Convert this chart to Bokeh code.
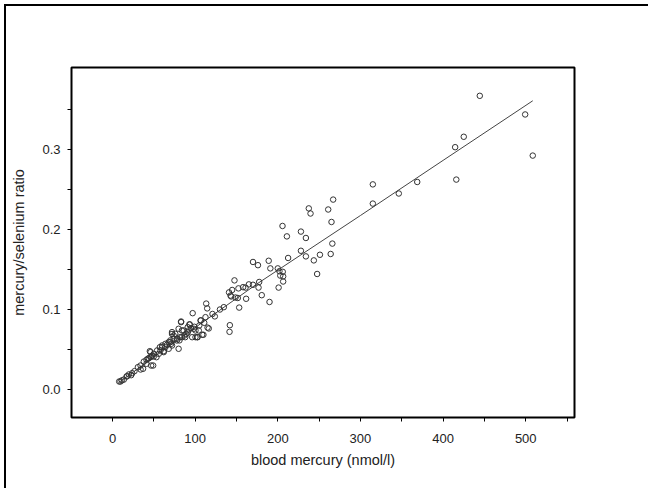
from bokeh.plotting import figure
from bokeh.models import Range1d, FixedTicker, NumeralTickFormatter, InlineStyleSheet
from bokeh.embed import file_html
from bokeh.resources import INLINE

# blood mercury (nmol/l)
mercury = [8.1, 9.7, 11.3, 13.7, 17, 17.8, 19.8, 22.6, 23.8, 26.6, 30.7, 34, 37, 33.9,
           37.9, 41.1, 41.1, 42.7, 44, 46.8, 46, 46.8, 48, 45.2, 46, 49.2, 50, 50, 53.2, 54,
           56, 57.3, 58, 60, 60, 62, 62, 64, 64, 66, 68, 68, 70, 70, 71, 72, 72, 72, 74, 74,
           76, 78, 78, 80, 80, 81, 82, 83, 83, 84, 84, 86, 87, 88, 89.5, 91, 91, 92, 93, 93.6,
           95, 96.4, 97, 98.4, 99, 100.4, 100.4, 102.5, 103, 104.4, 105, 106.5, 107, 108.5,
           110, 111, 112.5, 113.4, 114.6, 115, 116.5, 121, 123.8, 130, 134.7, 141, 142, 141.6,
           142.8, 143.6, 144.8, 147.6, 148.8, 151.6, 152.4, 153.3, 158, 161, 161.7, 165, 170,
           170, 176, 176.7, 177.5, 180.6, 189, 190, 191, 200, 201, 202, 203, 205.7, 206, 206.5,
           206.5, 211, 212.5, 228, 228, 234, 234, 237.5, 239.6, 243.6, 247.6, 251, 261, 264,
           265, 266, 267, 315, 315, 346.4, 368.7, 414.6, 416, 425, 444.4, 499.3, 508.5]
# mercury/selenium ratio
ratio = [0.0096, 0.0096, 0.011, 0.012, 0.0159, 0.0162, 0.0184, 0.0175, 0.020, 0.0225, 0.0275,
         0.0246, 0.0255, 0.0296,
         0.0345, 0.0317, 0.0367, 0.038, 0.0388, 0.0296, 0.040, 0.0409, 0.042, 0.0475, 0.0463,
         0.0296, 0.0409, 0.0442, 0.040, 0.0484, 0.0442, 0.0525, 0.0484, 0.0525, 0.0546, 0.0475,
         0.0463, 0.0525, 0.0567, 0.0555, 0.0588, 0.0505, 0.0588, 0.061, 0.0567, 0.0713, 0.0546,
         0.069, 0.067, 0.063, 0.0692, 0.063, 0.0609, 0.0505, 0.0755, 0.061, 0.065, 0.0838,
         0.0846, 0.0734, 0.065, 0.0734, 0.0671, 0.065, 0.0692, 0.0775, 0.071, 0.0734, 0.081,
         0.0809, 0.0763, 0.065, 0.095, 0.0755, 0.078, 0.0734, 0.065, 0.065, 0.065, 0.0734,
         0.0796, 0.0859, 0.086, 0.068, 0.068, 0.083, 0.090, 0.107, 0.101, 0.077, 0.0759, 0.094,
         0.091, 0.0996, 0.1025, 0.121, 0.080, 0.0717, 0.117, 0.1159, 0.124, 0.136, 0.1146,
         0.114, 0.126, 0.102, 0.1275, 0.127, 0.113, 0.131, 0.1305, 0.159, 0.155, 0.127, 0.134,
         0.1175, 0.1605, 0.109, 0.151, 0.151, 0.127, 0.1475, 0.142, 0.204, 0.1467, 0.141,
         0.1346, 0.191, 0.164, 0.197, 0.173, 0.189, 0.166, 0.226, 0.2196, 0.161, 0.144, 0.168,
         0.2246, 0.169, 0.209, 0.182, 0.237, 0.256, 0.232, 0.2446, 0.259, 0.3025, 0.262,
         0.3155, 0.3667, 0.3434, 0.292]

# fitted curve
fit_x = [8, 50, 98, 175, 300, 400, 508.5]
fit_y = [0.0085, 0.040, 0.0755, 0.1317, 0.2171, 0.286, 0.3605]

x_major = [0, 100, 200, 300, 400, 500]
x_minor = [50, 150, 250, 350, 450, 550]
y_major = [0.0, 0.1, 0.2, 0.3]
y_minor = [0.05, 0.15, 0.25, 0.35]

FONT = "Liberation Sans"

p = figure(width=648, height=488, output_backend="svg", toolbar_location=None,
           x_range=Range1d(-49.6, 559), y_range=Range1d(-0.0354, 0.4021),
           min_border_left=71, min_border_right=74, min_border_top=67, min_border_bottom=71)
p.background_fill_color = "white"
p.border_fill_color = "white"
# outer page border (top and left edges only; the rest lies outside the window)
p.stylesheets = [InlineStyleSheet(css="""
:host { position: relative; overflow: hidden; }
:host::before { content: ""; position: absolute; left: 4px; top: 4px;
                width: 800px; height: 700px; box-sizing: border-box;
                border-top: 2px solid black; border-left: 2px solid black;
                background: transparent; z-index: 5; pointer-events: none; }
""")]
p.outline_line_color = "black"
p.outline_line_width = 2
p.grid.visible = False

p.line(fit_x, fit_y, line_color="#444444", line_width=1)
p.scatter(mercury, ratio, marker="circle", size=5.5, fill_color=None,
          line_color="#333333", line_width=1)

for ax in (p.xaxis[0], p.yaxis[0]):
    ax.axis_line_color = None
    ax.major_tick_in = 0
    ax.major_tick_out = 4
    ax.minor_tick_in = 0
    ax.minor_tick_out = 4
    ax.major_tick_line_color = "black"
    ax.minor_tick_line_color = "black"
    ax.major_label_text_font = FONT
    ax.major_label_text_font_size = "13px"
    ax.major_label_text_color = "#222222"
    ax.axis_label_text_font = FONT
    ax.axis_label_text_font_size = "14.5px"
    ax.axis_label_text_font_style = "normal"
    ax.axis_label_text_color = "#222222"

p.xaxis[0].ticker = FixedTicker(ticks=x_major, minor_ticks=x_minor)
p.yaxis[0].ticker = FixedTicker(ticks=y_major, minor_ticks=y_minor)
p.yaxis[0].formatter = NumeralTickFormatter(format="0.0")
p.xaxis[0].axis_label = "blood mercury (nmol/l)"
p.yaxis[0].axis_label = "mercury/selenium ratio"
p.xaxis[0].major_label_standoff = 12
p.xaxis[0].axis_label_standoff = 6
p.yaxis[0].major_label_standoff = 7
p.yaxis[0].axis_label_standoff = 12

open("out.html", "w").write(file_html(p, INLINE))
